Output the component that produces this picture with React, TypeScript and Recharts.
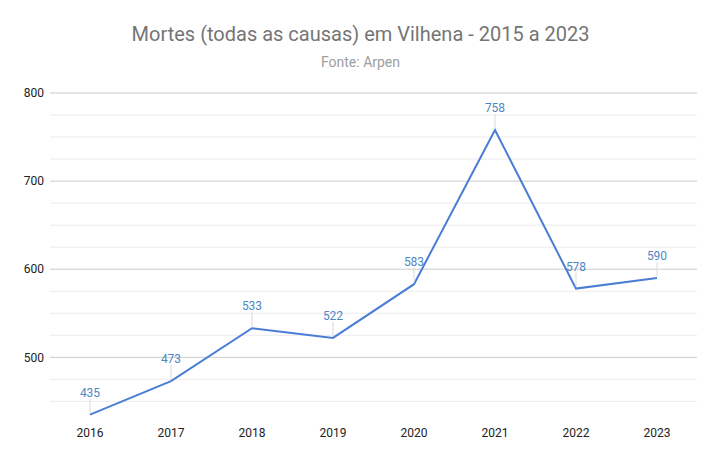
import { LineChart, Line, XAxis, YAxis, ReferenceLine, LabelList } from 'recharts';

const years = ['2016', '2017', '2018', '2019', '2020', '2021', '2022', '2023'];
const deaths = [435, 473, 533, 522, 583, 758, 578, 590];
const yTicks = [500, 600, 700, 800];
const minorGrid = [450, 475, 525, 550, 575, 625, 650, 675, 725, 750, 775];

const data = years.map((year, i) => ({ year, deaths: deaths[i] }));

const ValueLabel = (props: any) => {
  const { x, y, value } = props;
  return (
    <g>
      <line x1={x} y1={y - 2} x2={x} y2={y - 16} stroke="#d9d9d9" strokeWidth={1} />
      <text x={x} y={y - 22} textAnchor="middle" dominantBaseline="central" fill="#4f86c6" fontSize={12}>
        {value}
      </text>
    </g>
  );
};

export default function App() {
  return (
    <div style={{ position: 'absolute', left: 0, top: 0, width: 721, height: 462, background: '#fff', fontFamily: 'Roboto, Arial, sans-serif' }}>
      <div style={{ position: 'absolute', top: 22, width: 721, textAlign: 'center', fontSize: 20, color: '#757575' }}>
        Mortes (todas as causas) em Vilhena - 2015 a 2023
      </div>
      <div style={{ position: 'absolute', top: 54, width: 721, textAlign: 'center', fontSize: 14, color: '#9e9e9e' }}>
        Fonte: Arpen
      </div>
      <LineChart width={721} height={462} data={data} margin={{ top: 93, right: 24, bottom: 13, left: 0 }}>
        {minorGrid.map((v) => (
          <ReferenceLine key={'m' + v} y={v} stroke="#ececec" strokeWidth={1} />
        ))}
        {yTicks.map((v) => (
          <ReferenceLine key={'t' + v} y={v} stroke="#cccccc" strokeWidth={1} />
        ))}
        <XAxis
          dataKey="year"
          height={30}
          padding={{ left: 40, right: 40 }}
          axisLine={false}
          tickLine={false}
          tickSize={0}
          tickMargin={9}
          tick={{ fill: '#222', fontSize: 12 }}
        />
        <YAxis
          width={50}
          domain={[430, 800]}
          ticks={yTicks}
          allowDataOverflow
          axisLine={false}
          tickLine={false}
          tickSize={0}
          tickMargin={6}
          tick={{ fill: '#222', fontSize: 12 }}
        />
        <Line
          type="linear"
          dataKey="deaths"
          stroke="#4a7dd4"
          strokeWidth={2}
          dot={false}
          activeDot={false}
          isAnimationActive={false}
        >
          <LabelList dataKey="deaths" content={ValueLabel} />
        </Line>
      </LineChart>
    </div>
  );
}
